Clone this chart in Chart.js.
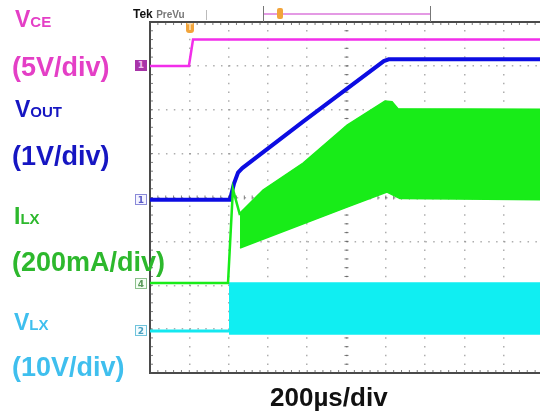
<!DOCTYPE html>
<html>
<head>
<meta charset="utf-8">
<script src="https://cdn.jsdelivr.net/npm/chart.js@4.4.0/dist/chart.umd.min.js"></script>
<style>
  body { margin: 0; width: 540px; height: 415px; overflow: hidden; background: #fff; position: relative; font-family: "Liberation Sans", Arial, sans-serif; }
  #c { position: absolute; left: 0; top: 0; }
  .lab { position: absolute; font-weight: bold; line-height: 1; white-space: nowrap; }
  .lab span { font-size: 15px; line-height: 1; }
  .mk { position: absolute; width: 12px; height: 11px; font: bold 9px/11px "DejaVu Sans", sans-serif; text-align: center; box-sizing: border-box; }
</style>
</head>
<body>
<canvas id="c" width="545" height="415" style="width:545px;height:415px"></canvas>

<div class="lab" style="left:133px;top:8px;font-size:12px;color:#111">Tek <b style="font-size:10px;color:#777;font-weight:bold">PreVu</b></div>
<div style="position:absolute;left:206px;top:10px;width:1px;height:10px;background:#bbb"></div>
<div style="position:absolute;left:263px;top:13px;width:167px;height:2px;background:#e49ae4"></div>
<div style="position:absolute;left:263px;top:6px;width:1px;height:16px;background:#777"></div>
<div style="position:absolute;left:430px;top:6px;width:1px;height:16px;background:#777"></div>
<div style="position:absolute;left:277px;top:8px;width:6px;height:11px;background:#f2a43a;border-radius:2px"></div>

<div class="lab" style="left:15px;top:7.5px;font-size:23px;color:#e43fc6">V<span>CE</span></div>
<div class="lab" style="left:12px;top:54px;font-size:27px;color:#e43fc6">(5V/div)</div>
<div class="lab" style="left:15px;top:97.5px;font-size:23px;color:#1616c2">V<span>OUT</span></div>
<div class="lab" style="left:12px;top:143px;font-size:27px;color:#1616c2">(1V/div)</div>
<div class="lab" style="left:14px;top:204.5px;font-size:23px;color:#2db82d">I<span>LX</span></div>
<div class="lab" style="left:12px;top:249px;font-size:27px;color:#2db82d">(200mA/div)</div>
<div class="lab" style="left:14px;top:310.5px;font-size:23px;color:#3fbfee">V<span>LX</span></div>
<div class="lab" style="left:12px;top:354px;font-size:27px;color:#3fbfee">(10V/div)</div>
<div class="lab" style="left:270px;top:384px;font-size:26px;color:#111">200µs/div</div>

<script>
// time axis in µs, 200µs/div over 10 divisions
var timeMin = 0
var timeMax = 2000

// channel settings: units per division and trace position (divisions)
var vceScale = 5, vceOffset = 3.0
var voutScale = 1, voutOffset = -0.05
var ilxScale = 200, ilxOffset = -1.95
var vlxScale = 10, vlxOffset = -3.04

// VCE (V)
var vceT = [0, 198, 219, 2000]
var vceV = [0, 0, 3.0, 3.0]

// VOUT (V)
var voutT = [0, 407, 427, 448, 470, 779, 1190, 1215, 2000]
var voutV = [0, 0, 0.36, 0.62, 0.72, 1.78, 3.16, 3.2, 3.2]

// ILX (mA): baseline + inrush spike, then switching envelope
var ilxT = [0, 397, 422, 458]
var ilxV = [0, 0, 428, 310]
var ilxHiT = [458, 575, 779, 1003, 1196, 1232, 1262, 2000]
var ilxHiV = [319, 424, 547, 720, 830, 827, 795, 792]
var ilxLoT = [458, 1003, 1206, 1272, 2000]
var ilxLoV = [160, 346, 415, 385, 380]

// VLX (V): baseline, then switching envelope
var vlxT = [0, 402]
var vlxV = [0, 0]
var vlxHiT = [402, 2000]
var vlxHiV = [10.9, 10.9]
var vlxLoT = [402, 2000]
var vlxLoV = [-0.7, -0.7]

function pts(t, v, scale, offset) {
  return t.map(function (x, i) { return { x: x, y: offset + v[i] / scale } })
}

function trace(data, color, width, extra) {
  var ds = { data: data, borderColor: color, backgroundColor: color, borderWidth: width, pointRadius: 0, tension: 0, fill: false }
  for (var k in extra) ds[k] = extra[k]
  return ds
}

var graticule = {
  id: 'graticule',
  beforeDatasetsDraw: function (chart) {
    var ctx = chart.ctx, a = chart.chartArea, xs = chart.scales.x, ys = chart.scales.y
    var cx = xs.getPixelForValue(1000), cy = ys.getPixelForValue(0)
    ctx.save()
    ctx.strokeStyle = 'rgba(80,80,80,0.75)'
    ctx.lineWidth = 1
    ctx.beginPath()
    for (var i = 0; i <= 50; i++) {
      var px = xs.getPixelForValue(i * 40)
      ctx.moveTo(px, a.bottom); ctx.lineTo(px, a.bottom - 3)
      ctx.moveTo(px, a.top); ctx.lineTo(px, a.top + 3)
      ctx.moveTo(px, cy - 2); ctx.lineTo(px, cy + 2)
    }
    for (var j = 0; j <= 40; j++) {
      var py = ys.getPixelForValue(-4 + j * 0.2)
      ctx.moveTo(a.left, py); ctx.lineTo(a.left + 3, py)
      ctx.moveTo(cx - 2, py); ctx.lineTo(cx + 2, py)
    }
    ctx.stroke()
    ctx.strokeStyle = '#4a4a4a'
    ctx.lineWidth = 2
    ctx.beginPath()
    ctx.moveTo(a.left, a.top); ctx.lineTo(a.right, a.top)
    ctx.stroke()
    ctx.restore()
  }
}

var ctx = document.getElementById('c')
var chart = new Chart(ctx, {
  type: 'line',
  data: {
    datasets: [
      trace(pts(vceT, vceV, vceScale, vceOffset), '#f22eea', 2.5),
      trace(pts(ilxT, ilxV, ilxScale, ilxOffset), '#18ec18', 2.5),
      trace(pts(ilxHiT, ilxHiV, ilxScale, ilxOffset), '#18ec18', 1.5, { fill: { target: 3 } }),
      trace(pts(ilxLoT, ilxLoV, ilxScale, ilxOffset), '#18ec18', 1.5),
      trace(pts(voutT, voutV, voutScale, voutOffset), '#0c0ce2', 4),
      trace(pts(vlxT, vlxV, vlxScale, vlxOffset), '#14e8f0', 3),
      trace(pts(vlxHiT, vlxHiV, vlxScale, vlxOffset), '#10eef2', 1.5, { fill: { target: 7 } }),
      trace(pts(vlxLoT, vlxLoV, vlxScale, vlxOffset), '#10eef2', 1.5)
    ]
  },
  options: {
    responsive: false,
    animation: false,
    layout: { padding: { left: 150, top: 22, right: 2, bottom: 42 } },
    plugins: { legend: { display: false }, tooltip: { enabled: false } },
    scales: {
      x: {
        type: 'linear', min: timeMin, max: timeMax,
        ticks: { display: false, stepSize: 200 },
        grid: { color: 'rgba(130,130,130,0.65)', lineWidth: 1.5, drawTicks: false },
        border: { display: true, color: '#4a4a4a', width: 2, dash: [1.5, 7.275], dashOffset: 0.75 },
        afterFit: function (s) { s.height = 0 }
      },
      y: {
        type: 'linear', min: -4, max: 4,
        ticks: { display: false, stepSize: 1 },
        grid: { color: 'rgba(130,130,130,0.65)', lineWidth: 1.5, drawTicks: false },
        border: { display: true, color: '#4a4a4a', width: 2, dash: [1.5, 6.36], dashOffset: 0.75 },
        afterFit: function (s) { s.width = 0 }
      }
    }
  },
  plugins: [graticule]
})

// channel position markers at the left edge and trigger marker
var marks = [
  { off: vceOffset, text: '1', style: 'background:#a834a8;color:#f0c0f0' },
  { off: voutOffset, text: '1', style: 'border:1px solid #8a8ad8;color:#5a5ac8;background:#f4f4ff' },
  { off: ilxOffset, text: '4', style: 'border:1px solid #8cc08c;color:#5a9a5a;background:#f4fff4' },
  { off: vlxOffset, text: '2', style: 'border:1px solid #70c4dc;color:#4aa0c0;background:#f2fcff' }
]
marks.forEach(function (m) {
  var d = document.createElement('div')
  d.className = 'mk'
  d.textContent = m.text
  d.style.cssText = m.style
  d.style.left = '135px'
  d.style.top = (chart.scales.y.getPixelForValue(m.off) - 5.5) + 'px'
  document.body.appendChild(d)
})
var trig = document.createElement('div')
trig.className = 'mk'
trig.textContent = 'T'
trig.style.cssText = 'background:#f2a43a;color:#fde2b8;width:8px;height:10px;font-size:8px;line-height:10px;border-radius:0 0 3px 3px'
trig.style.left = (chart.scales.x.getPixelForValue(204) - 4) + 'px'
trig.style.top = '23px'
document.body.appendChild(trig)
</script>
</body>
</html>
